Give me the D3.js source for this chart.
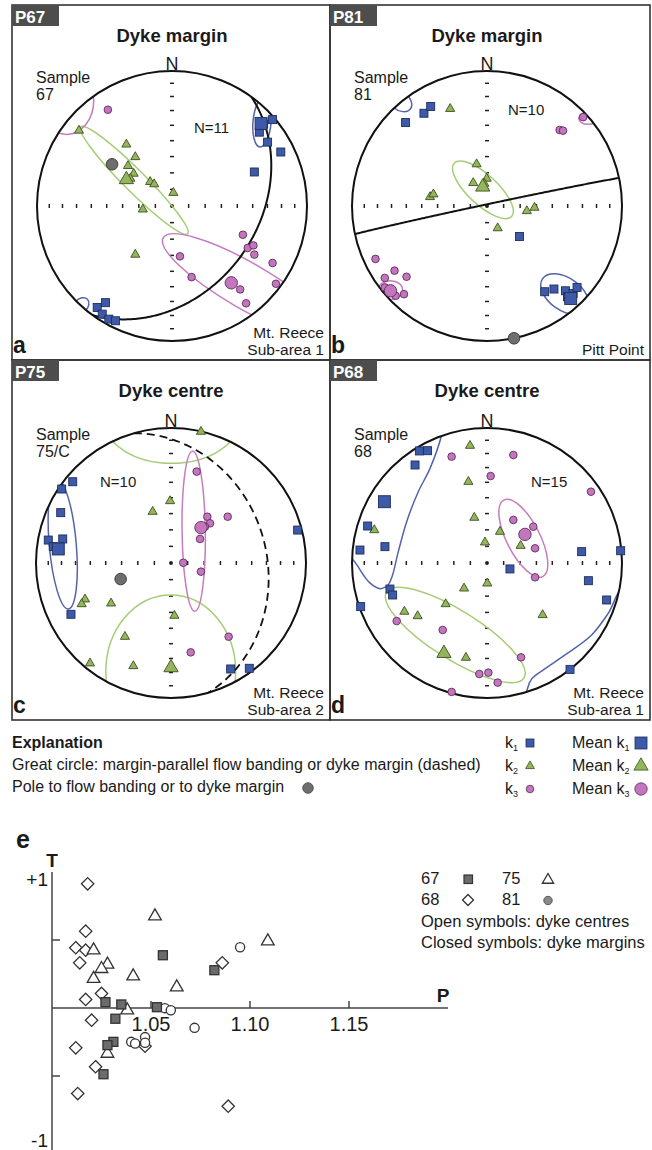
<!DOCTYPE html>
<html><head><meta charset="utf-8">
<script src="https://cdn.jsdelivr.net/npm/d3@7"></script>
<style>body{margin:0;background:#fff}svg{display:block}text{font-family:"Liberation Sans",Arial,sans-serif;fill:#1a1a1a}</style>
</head><body><svg id="c" width="652" height="1150"></svg>
<script>
// ===== Stereonet data: equal-area projected coordinates (x = east, y = north, primitive = 1) =====
// Panel a — P67, dyke margin
const a_k1=[[0.745,0.640],[0.679,0.608],[0.647,0.547],[0.708,0.473],[0.806,0.400],[0.610,0.252],[-0.554,-0.752],[-0.493,-0.716],[-0.517,-0.801],[-0.468,-0.838],[-0.419,-0.850]];
const a_meanK1=[0.660,0.612];
const a_k2=[[-0.689,0.559],[-0.338,0.456],[-0.272,0.363],[-0.326,0.297],[-0.284,0.240],[-0.309,0.203],[-0.162,0.179],[-0.132,0.162],[0.010,0.098],[-0.216,-0.025],[-0.272,-0.360]];
const a_meanK2=[-0.338,0.196];
const a_k3=[[-0.475,0.713],[0.059,-0.373],[0.145,-0.527],[0.525,-0.213],[0.561,-0.311],[0.603,-0.292],[0.610,-0.360],[0.745,-0.422],[0.770,-0.576],[0.505,-0.618],[0.549,-0.721]];
const a_meanK3=[0.439,-0.569];
const a_pole=[-0.444,0.309];
const a_plane={dipDir:126,dip:37,dashed:false};
// confidence ellipses: [cx, cy, semi-axis a, semi-axis b, angle°]
const a_ellK1=[[0.667,0.622,0.185,0.067,85],[-0.676,-0.74,0.07,0.05,45]];
const a_ellK2=[[-0.28,0.19,0.56,0.08,-45]];
const a_ellK3=[[0.55,-0.59,0.71,0.17,-30],[-0.78,0.78,0.2,0.25,0]];

// Panel b — P81, dyke margin
const b_k1=[[-0.467,0.687],[-0.417,0.737],[-0.603,0.618],[0.241,-0.226],[0.427,-0.635],[0.496,-0.615],[0.581,-0.628],[0.638,-0.648],[0.667,-0.603],[0.596,-0.672]];
const b_meanK1=[0.620,-0.685];
const b_k2=[[-0.273,0.720],[-0.077,0.310],[-0.102,0.171],[-0.002,0.203],[-0.020,0.166],[-0.422,0.067],[-0.397,0.087],[0.295,-0.037],[0.352,-0.012],[0.079,-0.164]];
const b_meanK2=[-0.032,0.141];
const b_k3=[[0.712,0.658],[0.538,0.563],[0.563,0.558],[-0.826,-0.392],[-0.685,-0.479],[-0.757,-0.533],[-0.596,-0.524],[-0.757,-0.603],[-0.615,-0.653],[-0.677,-0.665]];
const b_meanK3=[-0.715,-0.628];
const b_pole=[0.2,-0.98];
const b_plane={dipDir:348,dip:89,dashed:false};
const b_ellK1=[[-0.653,0.787,0.11,0.07,-40],[0.576,-0.653,0.2,0.12,-35]];
const b_ellK2=[[-0.03,0.12,0.29,0.11,-43]];
const b_ellK3=[[0.749,0.65,0.07,0.045,0],[-0.715,-0.623,0.09,0.07,0]];

// Panel c — P75, dyke centre
const c_k1=[[-0.728,0.602],[-0.810,0.548],[-0.817,0.373],[-0.909,0.170],[-0.802,0.178],[-0.872,0.121],[-0.741,-0.380],[0.442,-0.785],[0.580,-0.780],[0.938,0.244]];
const c_meanK1=[-0.835,0.104];
const c_k2=[[0.222,0.973],[-0.007,0.459],[-0.136,0.380],[-0.637,-0.269],[-0.662,-0.304],[-0.444,-0.299],[0.025,-0.390],[-0.341,-0.546],[-0.600,-0.743],[-0.279,-0.763]];
const c_meanK2=[0.0,-0.775];
const c_k3=[[0.190,0.677],[0.420,0.343],[0.269,0.343],[0.289,0.294],[0.252,0.269],[0.215,0.178],[0.091,0.002],[0.222,-0.064],[0.427,-0.546],[0.146,-0.662]];
const c_meanK3=[0.222,0.262];
const c_pole=[-0.373,-0.119];
const c_plane={dipDir:74,dip:30,dashed:true};
const c_ellK1=[[-0.802,0.138,0.48,0.1,95]];
const c_ellK2=[[0.005,1.047,0.494,0.309,0],[-0.002,-0.805,0.481,0.568,0]];
const c_ellK3=[[0.168,0.235,0.593,0.086,90.8]];

// Panel d — P68, dyke centre
const d_k1=[[-0.501,0.830],[-0.440,0.832],[-0.533,0.726],[-0.884,0.274],[-0.941,0.096],[-0.756,0.121],[0.701,0.084],[0.990,0.091],[0.170,-0.044],[0.751,-0.131],[0.886,-0.274],[-0.719,-0.193],[-0.699,-0.237],[-0.936,-0.323],[0.615,-0.788]];
const d_meanK1=[-0.760,0.454];
const d_k2=[[-0.126,0.869],[-0.138,0.602],[-0.094,0.336],[-0.835,0.244],[0.096,0.232],[-0.015,0.153],[0.249,0.128],[0.002,-0.151],[-0.170,-0.188],[-0.306,-0.304],[-0.612,-0.360],[-0.514,-0.393],[0.412,-0.385],[-0.156,-0.701]];
const d_meanK2=[-0.319,-0.669];
const d_k3=[[-0.262,0.788],[0.195,0.800],[0.027,0.644],[0.770,0.528],[0.195,0.319],[0.343,0.269],[0.356,0.109],[0.356,-0.106],[-0.669,-0.430],[-0.328,-0.496],[0.252,-0.699],[-0.057,-0.822],[0.010,-0.812],[0.079,-0.886],[-0.262,-0.955]];
const d_meanK3=[0.281,0.212];
const d_ellK2=[[-0.235,-0.533,0.60,0.18,-32]];
const d_ellK3=[[0.269,0.183,0.318,0.123,-63]];
// irregular k1 confidence outlines (projected coords)
const d_outK1=[
 [[-0.311,1.10],[-0.336,0.948],[-0.422,0.701],[-0.509,0.528],[-0.595,0.306],[-0.657,0.084],[-0.703,-0.100],[-0.735,-0.165],[-0.790,-0.190],[-0.870,-0.145],[-0.960,-0.02],[-1.10,0.2],[-1.10,0.7],[-0.8,1.1]],
 [[0.29,-1.05],[0.300,-0.93],[0.330,-0.86],[0.420,-0.79],[0.578,-0.681],[0.775,-0.533],[0.900,-0.37],[1.0,-0.2],[1.15,-0.4],[1.0,-0.85],[0.6,-1.15]]
];

// ===== P–T (Jelinek) data =====
const s67=[[1.056,0.388],[1.082,0.278],[1.027,0.043],[1.035,0.026],[1.053,0.006],[1.032,-0.079],[1.031,-0.249],[1.028,-0.273],[1.026,-0.487]];
const s68=[[1.018,0.913],[1.017,0.565],[1.012,0.443],[1.017,0.425],[1.014,0.332],[1.086,0.332],[1.025,0.107],[1.017,0.063],[1.020,-0.090],[1.012,-0.293],[1.022,-0.432],[1.013,-0.629],[1.089,-0.722],[1.047,-0.281]];
const s75=[[1.052,0.675],[1.109,0.491],[1.021,0.425],[1.028,0.320],[1.025,0.288],[1.021,0.215],[1.041,0.234],[1.063,0.153],[1.038,-0.016],[1.028,-0.335]];
const s81=[[1.095,0.447],[1.057,-0.001],[1.060,-0.016],[1.072,-0.146],[1.047,-0.214],[1.040,-0.249],[1.042,-0.261],[1.047,-0.256]];
const pTicks=[1.05,1.10,1.15];
const tTicks=[-0.5,0.5];

// ===== styles =====
const COL={k1:'#3d5aa9',k1s:'#1f2d5c',k2:'#93b65a',k2s:'#3e4d22',k3:'#c375be',k3s:'#5e2c5a',
  e1:'#5363aa',e2:'#a6cc76',e3:'#c57cbf',pole:'#6e6e6e'};
const R=135;
const svg=d3.select('#c');
const defs=svg.append('defs');

const panels=[
 {id:'P67',title:'Dyke margin',letter:'a',box:[12,5,330,360],ctr:[172,206],sample:['Sample','67'],n:'N=11',nOff:[22,-73],loc:['Mt. Reece','Sub-area 1'],
  k1:a_k1,m1:a_meanK1,k2:a_k2,m2:a_meanK2,k3:a_k3,m3:a_meanK3,pole:a_pole,plane:a_plane,e1:a_ellK1,e2:a_ellK2,e3:a_ellK3,o1:[]},
 {id:'P81',title:'Dyke margin',letter:'b',box:[330,5,650,360],ctr:[487,206],sample:['Sample','81'],n:'N=10',nOff:[21,-91],loc:['','Pitt Point'],
  k1:b_k1,m1:b_meanK1,k2:b_k2,m2:b_meanK2,k3:b_k3,m3:b_meanK3,pole:b_pole,plane:b_plane,e1:b_ellK1,e2:b_ellK2,e3:b_ellK3,o1:[]},
 {id:'P75',title:'Dyke centre',letter:'c',box:[12,360,330,720],ctr:[171,563],sample:['Sample','75/C'],n:'N=10',nOff:[-71,-76],loc:['Mt. Reece','Sub-area 2'],
  k1:c_k1,m1:c_meanK1,k2:c_k2,m2:c_meanK2,k3:c_k3,m3:c_meanK3,pole:c_pole,plane:c_plane,e1:c_ellK1,e2:c_ellK2,e3:c_ellK3,o1:[]},
 {id:'P68',title:'Dyke centre',letter:'d',box:[330,360,650,720],ctr:[487,563],sample:['Sample','68'],n:'N=15',nOff:[44,-76],loc:['Mt. Reece','Sub-area 1'],
  k1:d_k1,m1:d_meanK1,k2:d_k2,m2:d_meanK2,k3:d_k3,m3:d_meanK3,pole:null,plane:null,e1:[],e2:d_ellK2,e3:d_ellK3,o1:d_outK1}
];

function proj(v){const h=Math.hypot(v[0],v[1]);if(h<1e-9)return[0,0];const r=Math.sqrt(1-Math.abs(v[2]));return[v[0]/h*r,v[1]/h*r];}
function greatCircle(dd,dip){
  const rad=Math.PI/180,st=(dd-90)*rad,dr=dd*rad,d=dip*rad;
  const s=[Math.sin(st),Math.cos(st),0],dv=[Math.cos(d)*Math.sin(dr),Math.cos(d)*Math.cos(dr),-Math.sin(d)];
  return d3.range(0,180.5,1).map(a=>{const c=Math.cos(a*rad),si=Math.sin(a*rad);return proj([c*s[0]+si*dv[0],c*s[1]+si*dv[1],c*s[2]+si*dv[2]]);});
}
const tri=d3.symbol().type(d3.symbolTriangle);

function drawNet(p){
  const g=svg.append('g');
  const [x0,y0,x1,y1]=p.box,[cx,cy]=p.ctr;
  const x=d3.scaleLinear().domain([-1,1]).range([cx-R,cx+R]);
  const y=d3.scaleLinear().domain([-1,1]).range([cy+R,cy-R]);
  g.append('rect').attr('x',x0).attr('y',y0).attr('width',x1-x0).attr('height',y1-y0).attr('fill','none').attr('stroke','#333').attr('stroke-width',1.6);
  g.append('rect').attr('x',x0).attr('y',y0).attr('width',47).attr('height',21).attr('fill','#4d4d4d');
  g.append('text').attr('x',x0+3).attr('y',y0+17.5).attr('font-size',17).attr('font-weight','bold').style('fill','#fff').text(p.id);
  g.append('text').attr('x',cx).attr('y',y0+37).attr('text-anchor','middle').attr('font-size',18.5).attr('font-weight','bold').text(p.title);
  g.append('text').attr('x',cx).attr('y',cy-R-1).attr('text-anchor','middle').attr('font-size',18).text('N');
  p.sample.forEach((t,i)=>g.append('text').attr('x',x0+24).attr('y',cy-123+i*17).attr('font-size',16).text(t));
  g.append('text').attr('x',cx+p.nOff[0]).attr('y',cy+p.nOff[1]).attr('font-size',15).text(p.n);
  g.append('text').attr('x',x1-6).attr('y',y1-22).attr('text-anchor','end').attr('font-size',15.5).text(p.loc[0]);
  g.append('text').attr('x',x1-6).attr('y',y1-5).attr('text-anchor','end').attr('font-size',15.5).text(p.loc[1]);
  g.append('text').attr('x',x0+1).attr('y',y1-7).attr('font-size',23).attr('font-weight','bold').text(p.letter);

  // equal-area 10° ticks on the axes
  const tk=d3.range(1,9).map(k=>Math.SQRT2*Math.sin(k*5*Math.PI/180));
  const tg=g.append('g').attr('stroke','#222').attr('stroke-width',1.5);
  tk.forEach(r=>[-1,1].forEach(s=>{
    tg.append('line').attr('x1',x(s*r)).attr('x2',x(s*r)).attr('y1',y(0)-2).attr('y2',y(0)+2);
    tg.append('line').attr('x1',x(0)-2).attr('x2',x(0)+2).attr('y1',y(s*r)).attr('y2',y(s*r));
  }));
  tg.append('circle').attr('cx',x(0)).attr('cy',y(0)).attr('r',1.2).attr('fill','#222');

  const cid='clip'+p.id;
  defs.append('clipPath').attr('id',cid).append('circle').attr('cx',cx).attr('cy',cy).attr('r',R);
  const cg=g.append('g').attr('clip-path',`url(#${cid})`).attr('fill','none').attr('stroke-width',1.5);
  const ell=(list,col)=>list.forEach(e=>cg.append('ellipse').attr('rx',x(e[2])-x(0)).attr('ry',x(e[3])-x(0))
     .attr('transform',`translate(${x(e[0])},${y(e[1])}) rotate(${-e[4]})`).attr('stroke',col));
  ell(p.e2,COL.e2);ell(p.e3,COL.e3);ell(p.e1,COL.e1);
  const outline=d3.line().x(d=>x(d[0])).y(d=>y(d[1])).curve(d3.curveCatmullRomClosed.alpha(0.5));
  p.o1.forEach(o=>cg.append('path').attr('d',outline(o)).attr('stroke',COL.e1));
  if(p.plane){
    const gl=d3.line().x(d=>x(d[0])).y(d=>y(d[1]));
    cg.append('path').attr('d',gl(greatCircle(p.plane.dipDir,p.plane.dip))).attr('stroke','#111').attr('stroke-width',p.plane.dashed?1.8:2)
      .attr('stroke-dasharray',p.plane.dashed?'8,5':null);
  }
  g.append('circle').attr('cx',cx).attr('cy',cy).attr('r',R).attr('fill','none').attr('stroke','#111').attr('stroke-width',2);

  const mg=g.append('g').attr('stroke-width',0.9);
  const sq=(d,s)=>mg.append('rect').attr('x',x(d[0])-s/2).attr('y',y(d[1])-s/2).attr('width',s).attr('height',s).attr('fill',COL.k1).attr('stroke',COL.k1s);
  const tr=(d,a)=>mg.append('path').attr('d',tri.size(a)()).attr('transform',`translate(${x(d[0])},${y(d[1])})`).attr('fill',COL.k2).attr('stroke',COL.k2s);
  const ci=(d,r,f,s)=>mg.append('circle').attr('cx',x(d[0])).attr('cy',y(d[1])).attr('r',r).attr('fill',f).attr('stroke',s);
  p.k3.forEach(d=>ci(d,3.8,COL.k3,COL.k3s));
  p.k2.forEach(d=>tr(d,36));
  p.k1.forEach(d=>sq(d,8));
  if(p.pole)ci(p.pole,5.8,COL.pole,'#333');
  ci(p.m3,6.2,COL.k3,COL.k3s);
  tr(p.m2,88);
  sq(p.m1,12);
}
panels.forEach(drawNet);

// ===== Explanation =====
const lg=svg.append('g').attr('font-size',16);
lg.append('text').attr('x',12).attr('y',748).attr('font-weight','bold').text('Explanation');
lg.append('text').attr('x',12).attr('y',770).text('Great circle: margin-parallel flow banding or dyke margin (dashed)');
lg.append('text').attr('x',12).attr('y',792).text('Pole to flow banding or to dyke margin');
lg.append('circle').attr('cx',308).attr('cy',788).attr('r',5.3).attr('fill',COL.pole).attr('stroke','#444').attr('stroke-width',0.8);
const legRows=[{k:'1',y:743},{k:'2',y:766},{k:'3',y:789}];
legRows.forEach((r,i)=>{
  const t1=lg.append('text').attr('x',505).attr('y',r.y+5).text('k');
  t1.append('tspan').attr('font-size',9).attr('dy',3).text(r.k);
  const t2=lg.append('text').attr('x',572).attr('y',r.y+5).text('Mean k');
  t2.append('tspan').attr('font-size',9).attr('dy',3).text(r.k);
  if(i===0){
    lg.append('rect').attr('x',526).attr('y',r.y-4).attr('width',8).attr('height',8).attr('fill',COL.k1).attr('stroke',COL.k1s).attr('stroke-width',0.8);
    lg.append('rect').attr('x',635).attr('y',r.y-6).attr('width',12).attr('height',12).attr('fill',COL.k1).attr('stroke',COL.k1s).attr('stroke-width',0.8);
  }else if(i===1){
    lg.append('path').attr('d',tri.size(34)()).attr('transform',`translate(530,${r.y})`).attr('fill',COL.k2).attr('stroke',COL.k2s).attr('stroke-width',0.8);
    lg.append('path').attr('d',tri.size(88)()).attr('transform',`translate(641,${r.y})`).attr('fill',COL.k2).attr('stroke',COL.k2s).attr('stroke-width',0.8);
  }else{
    lg.append('circle').attr('cx',530).attr('cy',r.y).attr('r',3.8).attr('fill',COL.k3).attr('stroke',COL.k3s).attr('stroke-width',0.8);
    lg.append('circle').attr('cx',641).attr('cy',r.y).attr('r',6.2).attr('fill',COL.k3).attr('stroke',COL.k3s).attr('stroke-width',0.8);
  }
});

// ===== P–T plot (e) =====
const px=d3.scaleLinear().domain([1.0,1.2]).range([52,448]);
const py=d3.scaleLinear().domain([-1,1]).range([1144,872]);
const eg=svg.append('g');
eg.append('text').attr('x',16).attr('y',848).attr('font-size',25).attr('font-weight','bold').text('e');
eg.append('line').attr('x1',px(1)).attr('x2',px(1)).attr('y1',py(1)).attr('y2',1150).attr('stroke','#444').attr('stroke-width',1.5);
eg.append('line').attr('x1',px(1)).attr('x2',px(1.2)).attr('y1',py(0)).attr('y2',py(0)).attr('stroke','#444').attr('stroke-width',1.5);
tTicks.forEach(t=>eg.append('line').attr('x1',px(1)).attr('x2',px(1)+8).attr('y1',py(t)).attr('y2',py(t)).attr('stroke','#444').attr('stroke-width',1.5));
pTicks.forEach(t=>{
  eg.append('line').attr('x1',px(t)).attr('x2',px(t)).attr('y1',py(0)-7).attr('y2',py(0)).attr('stroke','#444').attr('stroke-width',1.5);
  eg.append('text').attr('x',px(t)).attr('y',py(0)+23).attr('text-anchor','middle').attr('font-size',20).text(d3.format('.2f')(t));
});
eg.append('text').attr('x',48).attr('y',py(1)+14).attr('text-anchor','end').attr('font-size',19).text('+1');
eg.append('text').attr('x',48).attr('y',py(-1)+3).attr('text-anchor','end').attr('font-size',19).text('-1');
eg.append('text').attr('x',px(1)).attr('y',867).attr('text-anchor','middle').attr('font-size',19).attr('font-weight','bold').text('T');
eg.append('text').attr('x',443).attr('y',1002).attr('text-anchor','middle').attr('font-size',19).attr('font-weight','bold').text('P');

const diamond=h=>`M0,${-h}L${h},0L0,${h}L${-h},0Z`;
const sg=eg.append('g').attr('stroke','#333').attr('stroke-width',1.3);
s68.forEach(d=>sg.append('path').attr('d',diamond(6.2)).attr('transform',`translate(${px(d[0])},${py(d[1])})`).attr('fill','#fff'));
s81.forEach(d=>sg.append('circle').attr('cx',px(d[0])).attr('cy',py(d[1])).attr('r',4.6).attr('fill','#fff'));
s75.forEach(d=>sg.append('path').attr('d',tri.size(70)()).attr('transform',`translate(${px(d[0])},${py(d[1])})`).attr('fill','#fff'));
s67.forEach(d=>sg.append('rect').attr('x',px(d[0])-4.5).attr('y',py(d[1])-4.5).attr('width',9).attr('height',9).attr('fill','#6b6b6b'));

// legend for e
const el=svg.append('g').attr('font-size',16.5);
el.append('text').attr('x',421).attr('y',884).text('67');
el.append('text').attr('x',502).attr('y',884).text('75');
el.append('text').attr('x',421).attr('y',905).text('68');
el.append('text').attr('x',502).attr('y',905).text('81');
el.append('text').attr('x',421).attr('y',927).text('Open symbols: dyke centres');
el.append('text').attr('x',421).attr('y',948).text('Closed symbols: dyke margins');
el.append('rect').attr('x',464).attr('y',875).attr('width',8.5).attr('height',8.5).attr('fill','#6b6b6b').attr('stroke','#333').attr('stroke-width',1.2);
el.append('path').attr('d',tri.size(55)()).attr('transform','translate(548,880)').attr('fill','#fff').attr('stroke','#333').attr('stroke-width',1.3);
el.append('path').attr('d',diamond(5.5)).attr('transform','translate(468,900)').attr('fill','#fff').attr('stroke','#333').attr('stroke-width',1.3);
el.append('circle').attr('cx',548).attr('cy',900.5).attr('r',4.2).attr('fill','#8a8a8a').attr('stroke','#555').attr('stroke-width',1);
</script></body></html>
